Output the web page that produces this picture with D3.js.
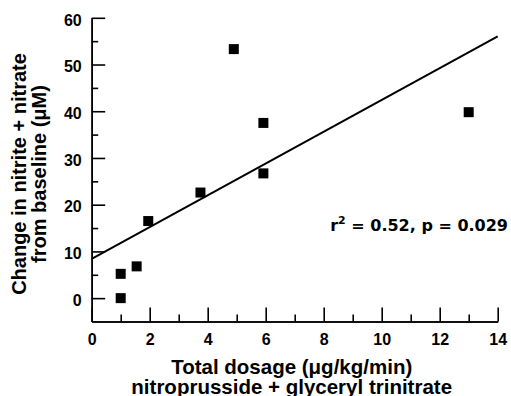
<!DOCTYPE html>
<html>
<head>
<meta charset="utf-8">
<script src="https://cdn.jsdelivr.net/npm/d3@7"></script>
<style>
  body { margin: 0; background: #fff; }
  svg text { font-family: "Liberation Sans", Arial, sans-serif; font-weight: bold; fill: #000; }
  .axis path, .axis line { stroke: #000; stroke-width: 1.6; }
</style>
</head>
<body>
<svg id="chart"></svg>
<script>
// dosage (ug/kg/min) vs change in nitrite + nitrate (uM)
const dosage = [1, 1, 1.55, 1.95, 3.75, 4.9, 5.92, 5.92, 13];
const change = [0, 5.2, 6.8, 16.5, 22.6, 53.3, 37.5, 26.7, 39.8];
// regression line ends
const fitX = [0, 14];
const fitY = [8.4, 56];
const xMajor = [0, 2, 4, 6, 8, 10, 12, 14];
const xMinor = [1, 3, 5, 7, 9, 11, 13];
const yMajor = [0, 10, 20, 30, 40, 50, 60];
const yMinor = [5, 15, 25, 35, 45, 55];

const w = 511;
const h = 396;

const svg = d3.select("#chart")
              .attr("width", w)
              .attr("height", h);

const xScale = d3.scaleLinear().domain([0, 14]).range([91.7, 497.7]);
const yScale = d3.scaleLinear().domain([-5, 60]).range([321.5, 17.8]);

// y axis (ticks point into the plot)
svg.append("g")
   .attr("class", "axis")
   .attr("transform", `translate(${xScale(0)}, 0)`)
   .call(d3.axisLeft(yScale).tickValues(yMinor).tickSize(-6.5).tickSizeOuter(0).tickFormat(""));
const yAx = svg.append("g")
   .attr("class", "axis")
   .attr("transform", `translate(${xScale(0)}, 0)`)
   .call(d3.axisLeft(yScale).tickValues(yMajor).tickSize(-13.5).tickSizeOuter(0).tickPadding(10));
yAx.selectAll("text").style("font-size", "16px").attr("dy", "0.45em");

// x axis
svg.append("g")
   .attr("class", "axis")
   .attr("transform", `translate(0, ${yScale(-5)})`)
   .call(d3.axisBottom(xScale).tickValues(xMinor).tickSize(-7).tickSizeOuter(0).tickFormat(""));
const xAx = svg.append("g")
   .attr("class", "axis")
   .attr("transform", `translate(0, ${yScale(-5)})`)
   .call(d3.axisBottom(xScale).tickValues(xMajor).tickSize(-14).tickSizeOuter(0).tickPadding(12));
xAx.selectAll("text").style("font-size", "16px");

// regression line
svg.append("line")
   .attr("x1", xScale(fitX[0]))
   .attr("y1", yScale(fitY[0]))
   .attr("x2", xScale(fitX[1]))
   .attr("y2", yScale(fitY[1]))
   .attr("stroke", "#000")
   .attr("stroke-width", 2);

// points
const sz = 10;
svg.selectAll(".pt")
   .data(dosage.map((d, i) => [d, change[i]]))
   .enter()
   .append("rect")
   .attr("class", "pt")
   .attr("x", d => xScale(d[0]) - sz / 2)
   .attr("y", d => yScale(d[1]) - sz / 2)
   .attr("width", sz)
   .attr("height", sz)
   .attr("fill", "#000");

// stats text
const stat = svg.append("text")
   .attr("x", 508)
   .attr("y", 230.5)
   .attr("text-anchor", "end")
   .style("font-family", "'DejaVu Sans', sans-serif")
   .style("font-size", "16px");
stat.append("tspan").text("r");
stat.append("tspan").attr("dy", -7).style("font-size", "11px").text("2");
stat.append("tspan").attr("dy", 7).text(" = 0.52, p = 0.029");

// x title
svg.append("text")
   .attr("x", 291.7)
   .attr("y", 374)
   .attr("text-anchor", "middle")
   .style("font-size", "20.5px")
   .text("Total dosage (μg/kg/min)");
svg.append("text")
   .attr("x", 291.7)
   .attr("y", 394)
   .attr("text-anchor", "middle")
   .style("font-size", "20.5px")
   .text("nitroprusside + glyceryl trinitrate");

// y title
const yt = svg.append("text")
   .attr("transform", "translate(26, 174) rotate(-90)")
   .attr("text-anchor", "middle")
   .style("font-size", "20px");
yt.append("tspan").attr("x", 0).attr("y", 0).text("Change in nitrite + nitrate");
yt.append("tspan").attr("x", 0).attr("y", 19.5).text("from baseline (μM)");
</script>
</body>
</html>
